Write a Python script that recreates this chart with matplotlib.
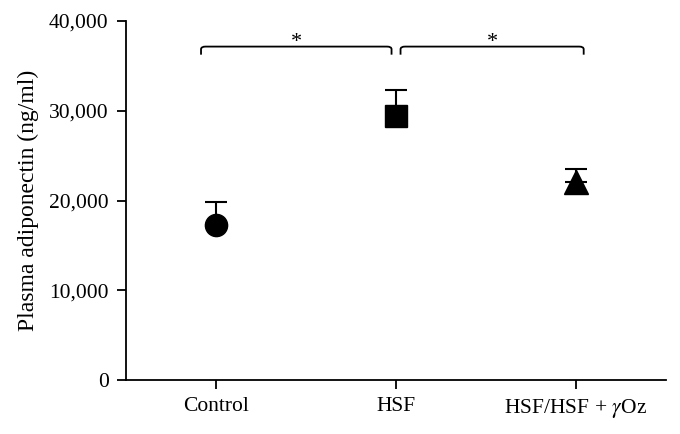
import numpy as np
from matplotlib import pyplot as plt
from matplotlib.path import Path
from matplotlib.patches import PathPatch

# data
groups = ['Control', 'HSF', 'HSF/HSF + $\\gamma$Oz']
means = [17300, 29400, 22100]
sem_up = [2550, 2900, 1400]
markers = ['o', 's', '^']
y_ticks = [0, 10000, 20000, 30000, 40000]
y_ticklabels = ['0', '10,000', '20,000', '30,000', '40,000']

# significance brackets: (x start, x end, y level)
brackets = [(-0.083, 0.976, 37150), (1.026, 2.044, 37150)]

plt.rcParams['font.family'] = ['Liberation Serif', 'DejaVu Serif']
plt.rcParams['mathtext.fontset'] = 'stix'

fig = plt.figure(figsize=(6.8, 4.34), dpi=100)
ax = fig.add_axes([0.1853, 0.1244, 0.7937, 0.8272])

x = np.arange(len(groups))
for xi, m, e, mk in zip(x, means, sem_up, markers):
    ax.errorbar(xi, m, yerr=[[0], [e]], fmt='none', ecolor='black',
                capsize=8, elinewidth=1.5, capthick=1.5, zorder=2)
    ax.plot(xi, m, marker=mk, color='black', ms=16 if mk != '^' else 17,
            linestyle='none', zorder=3)

# brackets with rounded corners and asterisks
dx, dy, drop = 0.025, 300, 900
for x0, x1, yb in brackets:
    verts = [(x0, yb - drop), (x0, yb - dy), (x0, yb), (x0 + dx, yb),
             (x1 - dx, yb), (x1, yb), (x1, yb - dy), (x1, yb - drop)]
    codes = [Path.MOVETO, Path.LINETO, Path.CURVE3, Path.CURVE3,
             Path.LINETO, Path.CURVE3, Path.CURVE3, Path.LINETO]
    ax.add_patch(PathPatch(Path(verts, codes), fill=False, edgecolor='black',
                           lw=1.3, clip_on=False))
    ax.text((x0 + x1) / 2, yb - 550, '*', ha='center', va='bottom', fontsize=16)

ax.set_xlim(-0.5, 2.5)
ax.set_ylim(0, 40000)
ax.set_xticks(x)
ax.set_xticklabels(groups, fontsize=15.5)
ax.set_yticks(y_ticks)
ax.set_yticklabels(y_ticklabels, fontsize=15.5)
ax.set_ylabel('Plasma adiponectin (ng/ml)', fontsize=17, labelpad=7)

for side in ['top', 'right']:
    ax.spines[side].set_visible(False)
for side in ['left', 'bottom']:
    ax.spines[side].set_linewidth(1.3)
ax.tick_params(width=1.3, length=6.5, pad=6)

fig.savefig('out.png', dpi=100)
